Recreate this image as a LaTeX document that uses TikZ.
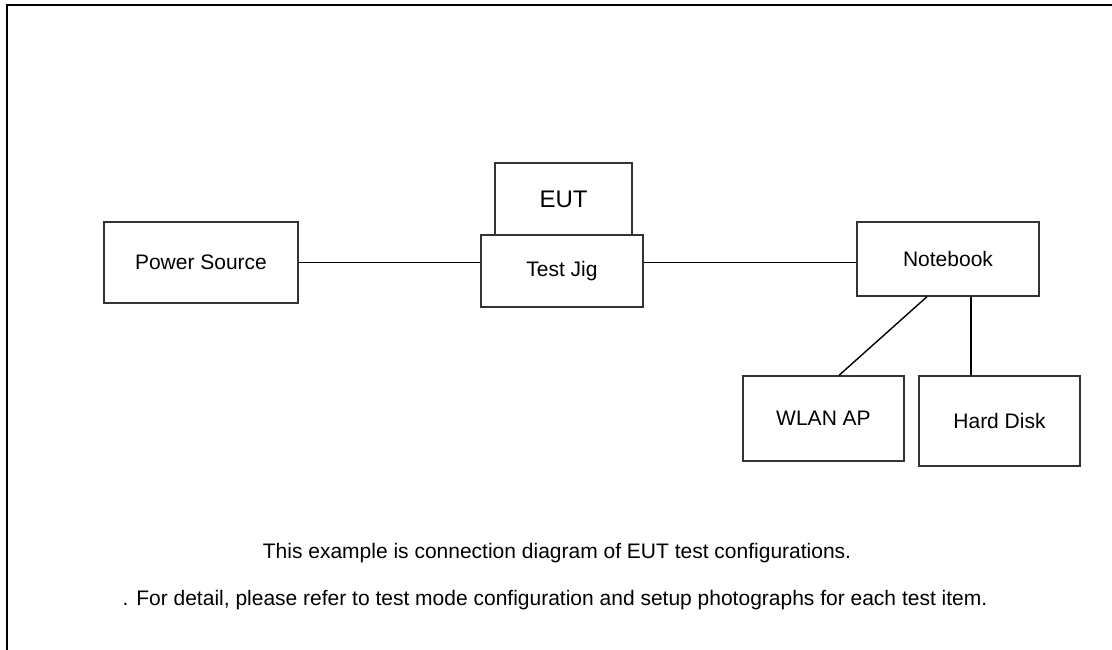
\documentclass[tikz,border=0pt]{standalone}
\usepackage{fontspec}
\setmainfont{Liberation Sans}
\usetikzlibrary{calc}
\begin{document}
\begin{tikzpicture}[x=1pt,y=-1pt,
  box/.style={draw=black!80, line width=1.3pt, fill=white, inner sep=0pt, align=center,
    font=\fontsize{21}{25}\selectfont},
  wire/.style={draw=black, line width=1.4pt},
  note/.style={inner sep=0pt, anchor=base, font=\fontsize{21}{25}\selectfont}]
\useasboundingbox (0,0) rectangle (1112,649);
\draw[line width=2.6pt] (7,660) -- (7,5) -- (1120,5);
\node[box, minimum width=194pt, minimum height=81pt] (ps) at (201,262.5) {Power Source};
\node[box, minimum width=137pt, minimum height=72pt, font=\fontsize{24}{28}\selectfont] (eut) at (563.5,199) {EUT};
\node[box, minimum width=162pt, minimum height=72pt] (tj) at (562,271) {Test Jig};
\node[box, minimum width=182pt, minimum height=74pt] (nb) at (948,259) {Notebook};
\node[box, minimum width=161pt, minimum height=85pt] (wlan) at (823.5,418.5) {WLAN AP};
\node[box, minimum width=161pt, minimum height=90pt] (hd) at (999.5,421) {Hard Disk};
\draw[wire] (ps.east) -- (ps.east -| tj.west);
\draw[wire] (tj.east |- ps.east) -- (nb.west |- ps.east);
\draw[wire] ($(nb.south)+(-21,0)$) -- ($(wlan.north)+(15.5,0)$);
\coordinate (hdtop) at ($(nb.south)+(23,0)$);
\draw[wire] (hdtop) -- (hdtop |- hd.north);
\node[note] (n1) at (557,558) {This example is connection diagram of EUT test configurations.};
\node[note] (n2) at (555,605) {. For detail, please refer to test mode configuration and setup photographs for each test item.};
\end{tikzpicture}
\end{document}
